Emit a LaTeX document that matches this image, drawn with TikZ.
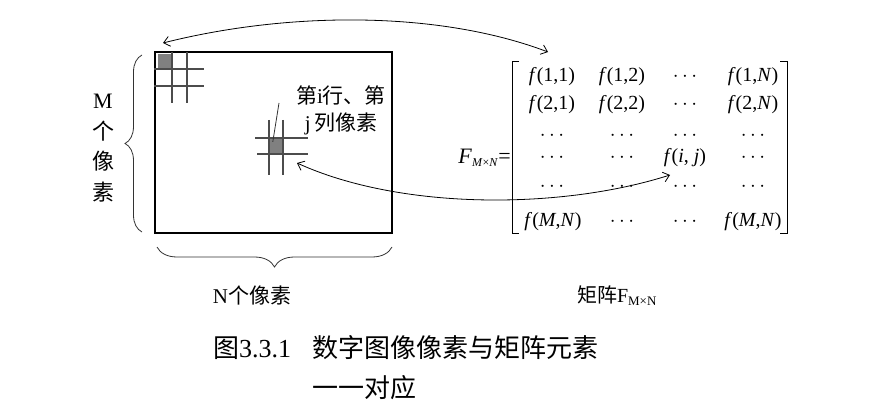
\documentclass[tikz,border=0pt]{standalone}
\usepackage{fontspec}
\setmainfont{Liberation Serif}
\newfontfamily\cjk{Noto Sans CJK SC}
\usetikzlibrary{arrows.meta,decorations.pathreplacing}
\newcommand{\zh}[1]{{\cjk #1}}

\tikzset{pixFrame/.style={draw=black,line width=1.2pt},
 pixGrid/.style={draw=black!70,line width=1.2pt},
 pixCell/.style={fill=black!50,draw=none,inner sep=0pt},
 pixBrace/.style={decorate,decoration={brace,amplitude=#1},draw=black!80,line width=0.8pt},
 pixLabel/.style={align=center,inner sep=0pt},
 matEntry/.style={font=\fontsize{20}{22}\selectfont,anchor=base,inner sep=0pt},
 linkArrow/.style={{Straight Barb[length=6pt,width=10pt]}-{Straight Barb[length=6pt,width=10pt]},line width=0.8pt}}

\begin{document}
\begin{tikzpicture}[x=1pt,y=-1pt]
\useasboundingbox (0,0) rectangle (878,417);
% image frame and pixel grids
\draw[pixFrame] (155,52) rectangle (392,233);
\node[pixCell,minimum width=14pt,minimum height=15pt] (cellA) at (165,61.5) {};
\node[pixCell,minimum width=13pt,minimum height=15pt] (cellB) at (276.5,146.5) {};
\foreach \yy in {69,86}{\draw[pixGrid] (154,\yy)--(204,\yy);}
\foreach \xx in {172,187}{\draw[pixGrid] (\xx,52)--(\xx,103);}
\draw[pixGrid] (255,138)--(308,138);
\draw[pixGrid] (257,154)--(308,154);
\foreach \xx in {269,283}{\draw[pixGrid] (\xx,120)--(\xx,175);}
\node[pixLabel,font=\fontsize{21}{27}\selectfont] (lblPix) at (341,110) {\zh{第}i\zh{行、第}\\ j\,\zh{列像素}};
\coordinate (ptrTop) at (279,103);
\draw[black!80,line width=0.8pt] (ptrTop)--([xshift=3pt,yshift=-3pt]cellB.north west);
% braces
\draw[pixBrace=17pt] (142,232)--(142,55);
\draw[pixBrace=20pt] (392,247)--(157,247);
\node[pixLabel,font=\fontsize{22}{30.5}\selectfont] (lblM) at (103,148) {M\\ \zh{个}\\ \zh{像}\\ \zh{素}};
\node[pixLabel,font=\fontsize{21}{25}\selectfont] (lblN) at (252,295) {N\zh{个像素}};
% matrix
\node[pixLabel,anchor=east,font=\fontsize{22}{24}\selectfont] (lblF) at (511,158) {\textit{F}\textsubscript{\fontsize{12}{14}\selectfont\textit{M}×\textit{N}}=};
\draw[line width=1pt] (519,62)--(512,62)--(512,233)--(519,233);
\draw[line width=1pt] (780,62)--(787,62)--(787,233)--(780,233);
\foreach \n/\xx/\yy/\txt in {
 a1/552/82/{\textit{f}(1,1)},a2/622/82/{\textit{f}(1,2)},a3/685/82/{$\cdots$},a4/753/82/{\textit{f}(1,\textit{N})},
 b1/552/110/{\textit{f}(2,1)},b2/622/110/{\textit{f}(2,2)},b3/685/110/{$\cdots$},b4/753/110/{\textit{f}(2,\textit{N})},
 c1/552/141/{$\cdots$},c2/622/141/{$\cdots$},c3/685/141/{$\cdots$},c4/753/141/{$\cdots$},
 d1/552/162/{$\cdots$},d2/622/162/{$\cdots$},d3/685/162/{\textit{f}(\textit{i}, \textit{j})},d4/753/162/{$\cdots$},
 e1/552/191/{$\cdots$},e2/622/191/{$\cdots$},e3/685/191/{$\cdots$},e4/753/191/{$\cdots$},
 g1/553/226/{\textit{f}(\textit{M},\textit{N})},g2/622/226/{$\cdots$},g3/685/226/{$\cdots$},g4/753/226/{\textit{f}(\textit{M},\textit{N})}}{
\node[matEntry] (m\n) at (\xx,\yy) {\txt};}
\node[pixLabel,font=\fontsize{20}{24}\selectfont] (lblMat) at (617,296) {\zh{矩阵}F\textsubscript{\fontsize{13}{15}\selectfont M×N}};
% correspondence arrows
\coordinate (tipA) at (163,43);
\coordinate (tipB) at (548,52);
\coordinate (tipC) at (297,163);
\coordinate (tipD) at (670,175);
\draw[linkArrow] (tipA) .. controls (290,11) and (440,11) .. (tipB);
\draw[linkArrow] (tipC) .. controls (400,210) and (560,210) .. (tipD);
% caption
\node[pixLabel,anchor=west,font=\fontsize{26}{30}\selectfont] (lblCap) at (213,348) {\zh{图}3.3.1\hspace{21pt}\zh{数字图像像素与矩阵元素}};
\node[pixLabel,anchor=west,font=\fontsize{26}{30}\selectfont] (lblCapB) at (312,388) {\zh{一一对应}};
\end{tikzpicture}
\end{document}
